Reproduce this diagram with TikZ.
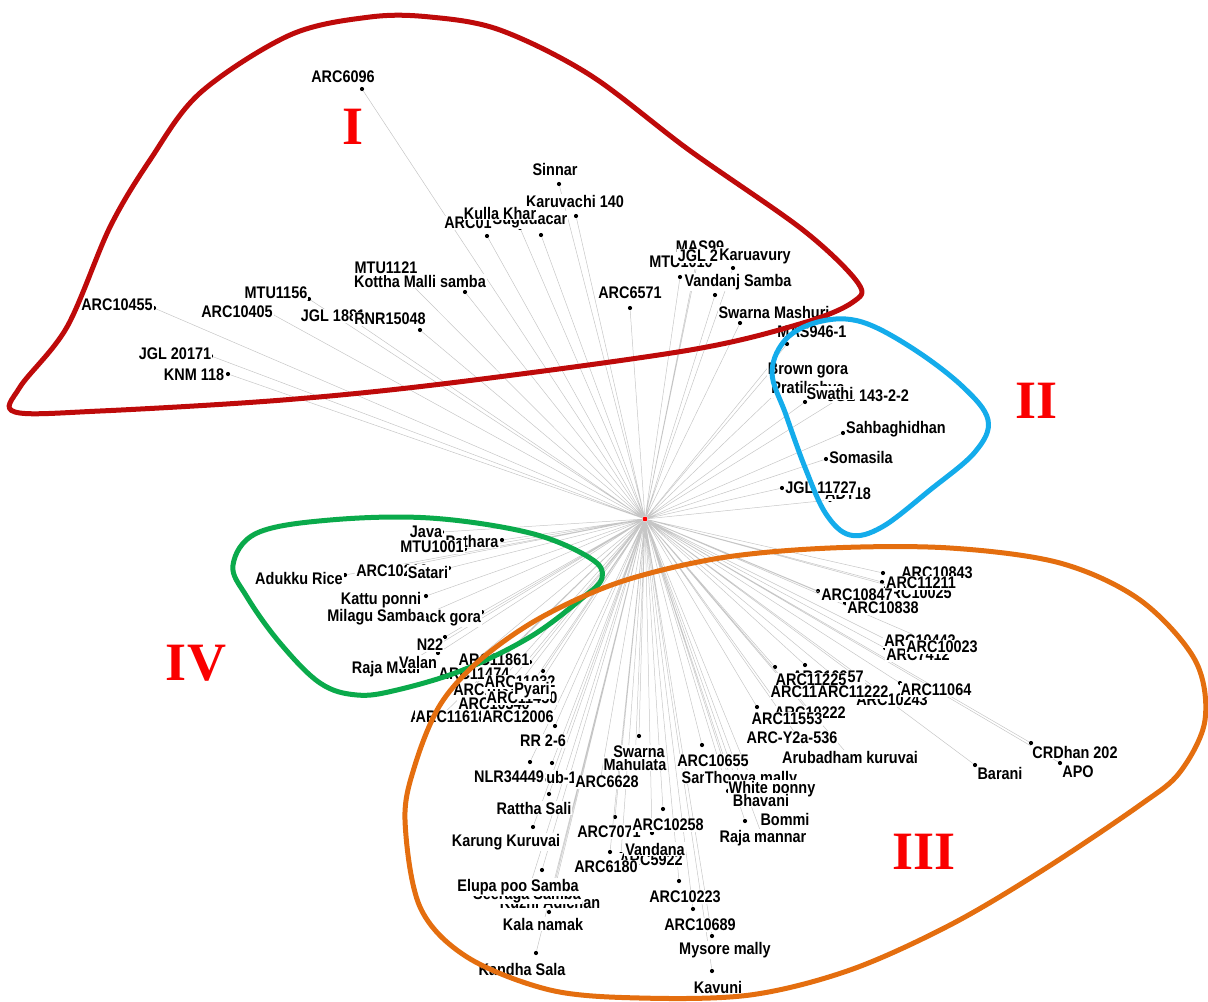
\documentclass[tikz,border=0pt]{standalone}
\usepackage{fontspec}
\usepackage{tikz}
\newfontfamily\lblfont[FakeStretch=0.86]{Liberation Sans}
\newfontfamily\numfont{Liberation Serif}
\definecolor{loopred}{RGB}{190,10,10}
\definecolor{loopblue}{RGB}{20,172,235}
\definecolor{loopgreen}{RGB}{10,170,75}
\definecolor{looporange}{RGB}{228,110,15}
\definecolor{numred}{RGB}{250,0,0}

\begin{document}
\begin{tikzpicture} [x=0.5pt, y=-0.5pt,
  leaf/.style = {circle, fill=black, inner sep=0pt, minimum size=2.1pt},
  lbl/.style = {fill=white, inner sep=0.5pt, font=\lblfont\bfseries\fontsize{8.4}{9}\selectfont},
  branch/.style = {draw=gray!45, line width=0.25pt},
  hull/.style = {line width=2.5pt, line join=round},
  num/.style = {text=numred, inner sep=0pt, font=\numfont\bfseries\fontsize{27}{27}\selectfont}]
\useasboundingbox (0,0) rectangle (1208,1001);
\node[circle, fill=red, inner sep=0pt, minimum size=2.4pt] (o) at (645,519) {};

\node[leaf] (a1) at (362,89) {};
\node[leaf] (a2) at (559,184) {};
\node[leaf] (a3) at (576,216) {};
\node[leaf] (a4) at (487,236) {};
\node[leaf] (a5) at (541,235) {};
\node[leaf] (a6) at (520,228) {};
\node[leaf] (a7) at (413,286) {};
\node[leaf] (a8) at (465,292) {};
\node[leaf] (a9) at (309,299) {};
\node[leaf] (a10) at (154,308) {};
\node[leaf] (a11) at (272,314) {};
\node[leaf] (a12) at (350,318) {};
\node[leaf] (a13) at (420,330) {};
\node[leaf] (a14) at (211,356) {};
\node[leaf] (a15) at (228,374) {};
\node[leaf] (a16) at (630,308) {};
\node[leaf] (a17) at (700,250) {};
\node[leaf] (a18) at (680,277) {};
\node[leaf] (a19) at (697,258) {};
\node[leaf] (a20) at (733,268) {};
\node[leaf] (a21) at (715,295) {};
\node[leaf] (a22) at (740,323) {};
\node[leaf] (a23) at (787,344) {};

\node[leaf] (b1) at (770,372) {};
\node[leaf] (b2) at (773,396) {};
\node[leaf] (b3) at (840,398) {};
\node[leaf] (b4) at (805,402) {};
\node[leaf] (b5) at (843,433) {};
\node[leaf] (b6) at (826,459) {};
\node[leaf] (b7) at (830,500) {};
\node[leaf] (b8) at (782,488) {};

\node[leaf] (e1) at (442,532) {};
\node[leaf] (e2) at (502,540) {};
\node[leaf] (e3) at (465,549) {};
\node[leaf] (e4) at (345,575) {};
\node[leaf] (e5) at (380,571) {};
\node[leaf] (e6) at (449,568) {};
\node[leaf] (e7) at (426,596) {};
\node[leaf] (e8) at (482,612) {};
\node[leaf] (e9) at (420,617) {};
\node[leaf] (e10) at (445,637) {};
\node[leaf] (e11) at (438,653) {};
\node[leaf] (e12) at (400,668) {};

\node[leaf] (c1) at (460,673) {};
\node[leaf] (c2) at (530,662) {};
\node[leaf] (c3) at (470,690) {};
\node[leaf] (c4) at (520,682) {};
\node[leaf] (c5) at (480,704) {};
\node[leaf] (c6) at (543,671) {};
\node[leaf] (c7) at (522,698) {};
\node[leaf] (c8) at (440,717) {};
\node[leaf] (c9) at (482,715) {};
\node[leaf] (c10) at (518,717) {};
\node[leaf] (c11) at (555,726) {};
\node[leaf] (c12) at (530,762) {};
\node[leaf] (c13) at (552,763) {};
\node[leaf] (c14) at (600,782) {};
\node[leaf] (c15) at (549,794) {};
\node[leaf] (c16) at (533,827) {};
\node[leaf] (c17) at (550,902) {};
\node[leaf] (c18) at (527,895) {};
\node[leaf] (c19) at (542,870) {};
\node[leaf] (c20) at (549,912) {};
\node[leaf] (c21) at (536,953) {};
\node[leaf] (c22) at (639,736) {};
\node[leaf] (c23) at (635,764) {};
\node[leaf] (c24) at (702,745) {};
\node[leaf] (c25) at (735,777) {};
\node[leaf] (c26) at (751,779) {};
\node[leaf] (c27) at (728,791) {};
\node[leaf] (c28) at (733,791) {};
\node[leaf] (c29) at (745,821) {};
\node[leaf] (c30) at (763,838) {};
\node[leaf] (c31) at (615,817) {};
\node[leaf] (c32) at (663,809) {};
\node[leaf] (c33) at (621,854) {};
\node[leaf] (c34) at (652,833) {};
\node[leaf] (c35) at (610,852) {};
\node[leaf] (c36) at (679,881) {};
\node[leaf] (c37) at (693,909) {};
\node[leaf] (c38) at (712,936) {};
\node[leaf] (c39) at (712,971) {};

\node[leaf] (r1) at (883,573) {};
\node[leaf] (r2) at (916,593) {};
\node[leaf] (r3) at (882,582) {};
\node[leaf] (r4) at (818,591) {};
\node[leaf] (r5) at (845,603) {};
\node[leaf] (r6) at (885,639) {};
\node[leaf] (r7) at (885,648) {};
\node[leaf] (r8) at (942,647) {};
\node[leaf] (r9) at (805,665) {};
\node[leaf] (r10) at (775,667) {};
\node[leaf] (r11) at (773,697) {};
\node[leaf] (r12) at (892,700) {};
\node[leaf] (r13) at (853,692) {};
\node[leaf] (r14) at (900,683) {};
\node[leaf] (r15) at (810,713) {};
\node[leaf] (r16) at (757,707) {};
\node[leaf] (r17) at (802,743) {};
\node[leaf] (r18) at (850,757) {};
\node[leaf] (r19) at (975,765) {};
\node[leaf] (r20) at (1031,743) {};
\node[leaf] (r21) at (1060,763) {};

\draw[branch] (o) -- (a1) (o) -- (a2) (o) -- (a3) (o) -- (a4) (o) -- (a5) (o) -- (a6)
  (o) -- (a7) (o) -- (a8) (o) -- (a9) (o) -- (a10) (o) -- (a11) (o) -- (a12) (o) -- (a13)
  (o) -- (a14) (o) -- (a15) (o) -- (a16) (o) -- (a17) (o) -- (a18) (o) -- (a19) (o) -- (a20)
  (o) -- (a21) (o) -- (a22) (o) -- (a23);
\draw[branch] (o) -- (b1) (o) -- (b2) (o) -- (b3) (o) -- (b4) (o) -- (b5) (o) -- (b6)
  (o) -- (b7) (o) -- (b8);
\draw[branch] (o) -- (e1) (o) -- (e2) (o) -- (e3) (o) -- (e4) (o) -- (e5) (o) -- (e6)
  (o) -- (e7) (o) -- (e8) (o) -- (e9) (o) -- (e10) (o) -- (e11) (o) -- (e12);
\draw[branch] (o) -- (c1) (o) -- (c2) (o) -- (c3) (o) -- (c4) (o) -- (c5) (o) -- (c6)
  (o) -- (c7) (o) -- (c8) (o) -- (c9) (o) -- (c10) (o) -- (c11) (o) -- (c12) (o) -- (c13)
  (o) -- (c14) (o) -- (c15) (o) -- (c16) (o) -- (c17) (o) -- (c18) (o) -- (c19) (o) -- (c20)
  (o) -- (c21) (o) -- (c22) (o) -- (c23) (o) -- (c24) (o) -- (c25) (o) -- (c26) (o) -- (c27)
  (o) -- (c28) (o) -- (c29) (o) -- (c30) (o) -- (c31) (o) -- (c32) (o) -- (c33) (o) -- (c34)
  (o) -- (c35) (o) -- (c36) (o) -- (c37) (o) -- (c38) (o) -- (c39);
\draw[branch] (o) -- (r1) (o) -- (r2) (o) -- (r3) (o) -- (r4) (o) -- (r5) (o) -- (r6)
  (o) -- (r7) (o) -- (r8) (o) -- (r9) (o) -- (r10) (o) -- (r11) (o) -- (r12) (o) -- (r13)
  (o) -- (r14) (o) -- (r15) (o) -- (r16) (o) -- (r17) (o) -- (r18) (o) -- (r19) (o) -- (r20)
  (o) -- (r21);

\node[lbl] (a1l) at (343,77) {ARC6096};
\node[lbl] (a2l) at (555,169) {Sinnar};
\node[lbl] (a3l) at (575,201) {Karuvachi 140};
\node[lbl] (a4l) at (480,223) {ARC01016};
\node[lbl] (a5l) at (530,220) {Sugudacar};
\node[lbl] (a6l) at (500,213) {Kulla Khar};
\node[lbl] (a8l) at (420,281) {Kottha Malli samba};
\node[lbl] (a7l) at (386,268) {MTU1121};
\node[lbl] (a9l) at (276,293) {MTU1156};
\node[lbl] (a10l) at (117,305) {ARC10455};
\node[lbl] (a11l) at (237,312) {ARC10405};
\node[lbl] (a12l) at (333,316) {JGL 1881};
\node[lbl] (a13l) at (390,319) {RNR15048};
\node[lbl] (a14l) at (175,354) {JGL 20171};
\node[lbl] (a15l) at (194,375) {KNM 118};
\node[lbl] (a16l) at (630,293) {ARC6571};
\node[lbl] (a17l) at (700,247) {MAS99};
\node[lbl] (a18l) at (681,262) {MTU1010};
\node[lbl] (a19l) at (714,256) {JGL 24423};
\node[lbl] (a20l) at (755,256) {Karuavury};
\node[lbl] (a21l) at (738,282) {Vandanj Samba};
\node[lbl] (a22l) at (774,312) {Swarna Mashuri};
\node[lbl] (a23l) at (812,332) {MAS946-1};

\node[lbl] (b1l) at (808,370) {Brown gora};
\node[lbl] (b2l) at (808,389) {Pratikshya};
\node[lbl] (b3l) at (868,396) {JGL 143-2-2};
\node[lbl] (b4l) at (830,393) {Swathi};
\node[lbl] (b5l) at (896,429) {Sahbaghidhan};
\node[lbl] (b6l) at (861,457) {Somasila};
\node[lbl] (b7l) at (848,494) {ADT18};
\node[lbl] (b8l) at (821,488) {JGL 11727};

\node[lbl] (e2l) at (472,541) {Pathara};
\node[lbl] (e1l) at (426,532) {Java};
\node[lbl] (e3l) at (432,547) {MTU1001};
\node[lbl] (e4l) at (299,578) {Adukku Rice};
\node[lbl] (e5l) at (392,571) {ARC10216};
\node[lbl] (e6l) at (428,572) {Satari};
\node[lbl] (e7l) at (381,600) {Kattu ponni};
\node[lbl] (e8l) at (444,618) {Black gora};
\node[lbl] (e9l) at (376,617) {Milagu Samba};
\node[lbl] (e10l) at (430,645) {N22};
\node[lbl] (e12l) at (386,669) {Raja Mudi};
\node[lbl] (e11l) at (418,662) {Valan};

\node[lbl] (c1l) at (474,674) {ARC11474};
\node[lbl] (c2l) at (494,660) {ARC11861};
\node[lbl] (c3l) at (489,690) {ARC10336};
\node[lbl] (c4l) at (520,682) {ARC11032};
\node[lbl] (c5l) at (494,704) {ARC10340};
\node[lbl] (c7l) at (522,698) {ARC11450};
\node[lbl] (c6l) at (532,690) {Pyari};
\node[lbl] (c8l) at (446,717) {ARC10576};
\node[lbl] (c9l) at (451,717) {ARC11618};
\node[lbl] (c10l) at (518,717) {ARC12006};
\node[lbl] (c11l) at (543,741) {RR 2-6};
\node[lbl] (c13l) at (529,777) {Swarna Sub-1};
\node[lbl] (c12l) at (509,777) {NLR34449};
\node[lbl] (c14l) at (607,782) {ARC6628};
\node[lbl] (c15l) at (534,808) {Rattha Sali};
\node[lbl] (c16l) at (506,842) {Karung Kuruvai};
\node[lbl] (c17l) at (550,902) {Kuzhi Adichan};
\node[lbl] (c18l) at (527,895) {Seeraga Samba};
\node[lbl] (c19l) at (518,887) {Elupa poo Samba};
\node[lbl] (c20l) at (543,924) {Kala namak};
\node[lbl] (c21l) at (522,969) {Kandha Sala};
\node[lbl] (c23l) at (635,764) {Mahulata};
\node[lbl] (c22l) at (639,752) {Swarna};
\node[lbl] (c24l) at (713,761) {ARC10655};
\node[lbl] (c25l) at (735,777) {Samba Mahsuri};
\node[lbl] (c26l) at (751,779) {Thooya mally};
\node[lbl] (c27l) at (772,789) {White ponny};
\node[lbl] (c28l) at (761,800) {Bhavani};
\node[lbl] (c29l) at (785,819) {Bommi};
\node[lbl] (c30l) at (763,838) {Raja mannar};
\node[lbl] (c31l) at (609,832) {ARC7071};
\node[lbl] (c33l) at (651,860) {ARC5922};
\node[lbl] (c35l) at (606,867) {ARC6180};
\node[lbl] (c34l) at (655,849) {Vandana};
\node[lbl] (c32l) at (668,825) {ARC10258};
\node[lbl] (c36l) at (685,897) {ARC10223};
\node[lbl] (c37l) at (700,925) {ARC10689};
\node[lbl] (c38l) at (725,950) {Mysore mally};
\node[lbl] (c39l) at (718,987) {Kavuni};

\node[lbl] (r1l) at (937,573) {ARC10843};
\node[lbl] (r2l) at (916,593) {ARC10025};
\node[lbl] (r3l) at (921,583) {ARC11211};
\node[lbl] (r4l) at (857,595) {ARC10847};
\node[lbl] (r5l) at (883,608) {ARC10838};
\node[lbl] (r6l) at (920,641) {ARC10442};
\node[lbl] (r7l) at (918,655) {ARC7412};
\node[lbl] (r8l) at (942,647) {ARC10023};
\node[lbl] (r9l) at (828,677) {ARC10957};
\node[lbl] (r10l) at (811,680) {ARC11225};
\node[lbl] (r11l) at (806,692) {ARC11229};
\node[lbl] (r12l) at (892,700) {ARC10243};
\node[lbl] (r13l) at (853,692) {ARC11222};
\node[lbl] (r14l) at (936,690) {ARC11064};
\node[lbl] (r15l) at (810,713) {ARC10222};
\node[lbl] (r16l) at (787,719) {ARC11553};
\node[lbl] (r17l) at (792,738) {ARC-Y2a-536};
\node[lbl] (r18l) at (850,757) {Arubadham kuruvai};
\node[lbl] (r19l) at (1000,773) {Barani};
\node[lbl] (r20l) at (1075,752) {CRDhan 202};
\node[lbl] (r21l) at (1078,772) {APO};

\draw[hull, loopred] plot[smooth cycle, tension=0.55] coordinates {(15,412) (20,387) (67,327) (110,227)
  (150,160) (200,93) (290,35) (370,17) (430,17) (500,30) (590,75) (689,150) (803,230) (858,283)
  (853,302) (803,323) (690,350) (450,383) (283,400) (100,411)};
\draw[hull, loopblue] plot[smooth cycle, tension=0.6] coordinates {(772,372) (787,338) (822,321)
  (862,322) (912,348) (962,386) (988,420) (975,452) (930,490) (882,527) (850,535) (826,514)
  (806,470) (786,415)};
\draw[hull, loopgreen] plot[smooth cycle, tension=0.6] coordinates {(233,565) (257,533) (330,520)
  (430,518) (530,533) (590,558) (602,578) (580,600) (530,637) (463,670) (397,690) (357,695)
  (320,683) (280,643) (247,597)};
\draw[hull, looporange] plot[smooth cycle, tension=0.55] coordinates {(405,820) (415,765) (440,705)
  (480,660) (540,618) (620,582) (720,558) (830,548) (950,548) (1060,563) (1140,600) (1195,660)
  (1205,720) (1180,772) (1140,805) (1043,870) (950,925) (850,970) (750,995) (640,998) (550,990)
  (467,957) (420,907)};

\node[num] (n1) at (353,127) {I};
\node[num] (n2) at (1036,401) {II};
\node[num] (n3) at (924,852) {III};
\node[num] (n4) at (196,663) {IV};
\end{tikzpicture}
\end{document}
